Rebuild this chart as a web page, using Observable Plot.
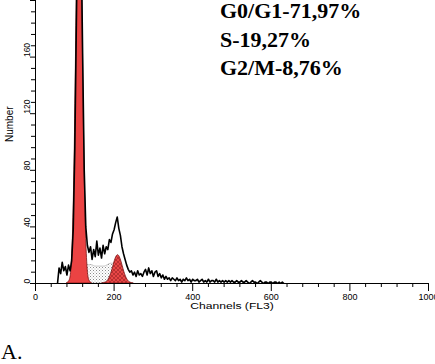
<!DOCTYPE html>
<html><head><meta charset="utf-8">
<script src="https://cdn.jsdelivr.net/npm/d3@7"></script>
<script src="https://cdn.jsdelivr.net/npm/@observablehq/plot@0.6"></script>
<style>
html,body{margin:0;padding:0;background:#fff;}
#wrap{position:relative;width:435px;height:364px;overflow:hidden;}
#chart{position:absolute;left:0;top:0;}
#over{position:absolute;left:0;top:0;pointer-events:none;}
</style></head><body>
<div id="wrap"><div id="chart"></div>
<svg id="over" width="435" height="364">
  <g font-family="'Liberation Serif','Times New Roman',serif" font-weight="bold" font-size="22" fill="#000">
    <text x="220" y="18">G0/G1-71,97%</text>
    <text x="220" y="46.5">S-19,27%</text>
    <text x="220" y="75">G2/M-8,76%</text>
  </g>
  <text x="1" y="359" font-family="'Liberation Serif','Times New Roman',serif" font-size="22" fill="#000">A.</text>
</svg>
</div>
<script>
// Axis ticks
const xMajor = [0, 200, 400, 600, 800, 1000];
const xMinor = [40, 80, 120, 160, 240, 280, 320, 360, 440, 480, 520, 560, 640, 680, 720, 760, 840, 880, 920, 960];
const yMajor = [0, 40, 80, 120, 160, 200];
const yLabels = [0, 40, 80, 120, 160];
const yMinor = [8, 16, 24, 32, 48, 56, 64, 72, 88, 96, 104, 112, 128, 136, 144, 152, 168, 176, 184, 192];

// Measured histogram (channel step 4 starting at 56)
const histStart = 56, histStep = 4;
const histCounts = [
  0, 11, 7, 15, 9, 12, 6, 13, 9, 16,
  38, 95, 185, 275, 300, 250, 160, 80, 40, 27,
  22, 26, 17, 24, 19, 30, 20, 25, 18, 27,
  21, 26, 24, 31, 29, 35, 38, 43, 47, 39,
  34, 26, 21, 17, 13, 10, 8, 9, 6, 8,
  5, 9, 6, 7, 5, 8, 10, 6, 11, 7,
  9, 5, 8, 9, 5, 7, 4, 6, 3, 5,
  3, 4, 2, 4, 3, 2, 4, 2, 3, 1,
  3, 2, 4, 2, 3, 1, 3, 2, 2, 3,
  1, 2, 3, 1, 2, 1, 3, 1, 2, 2,
  1, 3, 1, 2, 1, 2, 1, 2, 1, 2,
  1, 2, 1, 1, 2, 1, 1, 2, 1, 1,
  2, 1, 0, 1, 2, 1, 1, 0, 1, 2,
  1, 0, 1, 1, 0, 1, 1, 0, 1, 1,
  0, 1, 0, 1, 0
];

// Model fit components
const g1Channels = [80, 84, 88, 92, 96, 100, 104, 108, 112, 116, 120, 124, 128, 132, 136, 140, 144];
const g1Counts   = [0, 1, 3, 13, 41, 97, 182, 265, 300, 265, 182, 97, 41, 13, 3, 1, 0];
const sChannels  = [112, 116, 120, 124, 128, 136, 144, 152, 160, 168, 176, 184, 192, 200, 208, 214, 218];
const sCounts    = [0, 4, 9, 12, 13, 13, 13, 12, 12, 12, 12, 13, 14, 14, 12, 6, 0];
const g2Channels = [170, 174, 178, 182, 186, 190, 194, 198, 202, 206, 210, 214, 218, 222, 226, 230, 234, 238, 242, 246, 250];
const g2Counts   = [0, 0.2, 0.6, 1.3, 2.7, 5, 8.2, 12.1, 16, 18.9, 20, 18.9, 16, 12.1, 8.2, 5, 2.7, 1.3, 0.6, 0.2, 0];

const hist = histCounts.map((c, i) => ({ch: histStart + i * histStep, n: c}));
const g1 = g1Channels.map((c, i) => ({ch: c, n: g1Counts[i]}));
const sph = sChannels.map((c, i) => ({ch: c, n: sCounts[i]}));
const g2 = g2Channels.map((c, i) => ({ch: c, n: g2Counts[i]}));

const svg = Plot.plot({
  width: 435, height: 315,
  marginLeft: 35, marginRight: 7, marginTop: 0, marginBottom: 32,
  x: {domain: [0, 1000]},
  y: {domain: [0, 200]},
  style: {fontFamily: "'Liberation Sans', Arial, sans-serif", fontSize: "9px", background: "transparent", color: "#000"},
  marks: [
    Plot.areaY(sph, {x: "ch", y: "n", fill: "url(#sdots)", stroke: "#9a9a9a", strokeWidth: 0.5, curve: "monotone-x"}),
    Plot.areaY(g1, {x: "ch", y: "n", fill: "#eb4343", stroke: "#7a1515", strokeWidth: 0.8, curve: "monotone-x", clip: true}),
    Plot.areaY(g2, {x: "ch", y: "n", fill: "url(#g2hatch)", stroke: "#7a1515", strokeWidth: 0.8, curve: "monotone-x"}),
    Plot.lineY(hist, {x: "ch", y: "n", stroke: "#000", strokeWidth: 1.6, clip: true}),
    Plot.ruleX([0], {stroke: "#000", strokeWidth: 1}),
    Plot.ruleY([0], {stroke: "#000", strokeWidth: 1}),
    Plot.axisX(xMinor, {tickSize: 4, tickFormat: () => "", label: null, stroke: "#000"}),
    Plot.axisX(xMajor, {tickSize: 8, tickPadding: 2, tickFormat: d => String(d), fontSize: 9, label: null, stroke: "#000", fill: "#000"}),
    Plot.axisY(yMinor, {tickSize: 4, tickFormat: () => "", label: null, stroke: "#000"}),
    Plot.axisY(yMajor, {tickSize: 5, tickFormat: () => "", label: null, stroke: "#000"}),
    Plot.text(yLabels, {y: d => d, frameAnchor: "left", text: d => String(d), rotate: -90, dx: -8, fontSize: 8.5, fill: "#000"}),
    Plot.text(["Number"], {frameAnchor: "left", text: d => d, rotate: -90, dx: -26, fontSize: 10, fill: "#000"}),
    Plot.text(["Channels (FL3)"], {frameAnchor: "bottom", lineAnchor: "bottom", text: d => d, dy: 25, fontSize: 9, fill: "#000"})
  ]
});

const s = d3.select(svg);
const defs = s.insert("defs", ":first-child");
const dots = defs.append("pattern").attr("id", "sdots").attr("patternUnits", "userSpaceOnUse").attr("width", 3).attr("height", 3);
dots.append("rect").attr("width", 3).attr("height", 3).attr("fill", "#fff");
dots.append("rect").attr("x", 0).attr("y", 0).attr("width", 1).attr("height", 1).attr("fill", "#8a8a8a");
dots.append("rect").attr("x", 1.5).attr("y", 1.5).attr("width", 1).attr("height", 1).attr("fill", "#b5b5b5");
const hatch = defs.append("pattern").attr("id", "g2hatch").attr("patternUnits", "userSpaceOnUse").attr("width", 4).attr("height", 4);
hatch.append("rect").attr("width", 4).attr("height", 4).attr("fill", "#e84646");
hatch.append("path").attr("d", "M0,4L4,0M0,0L4,4").attr("stroke", "#8a1c1c").attr("stroke-width", 0.5);

// horizontally stretched axis text, as in the scanned original
s.selectAll("text").filter(function () { return this.textContent === "Channels (FL3)"; }).each(function () {
  const t = d3.select(this);
  const x = +t.attr("x") || 0, y = +t.attr("y") || 0;
  const tr = t.attr("transform") || "";
  t.attr("x", null).attr("y", null).attr("transform", `${tr} translate(${x},${y}) scale(1.35,1)`);
});

document.getElementById("chart").appendChild(svg);
</script>
</body></html>
